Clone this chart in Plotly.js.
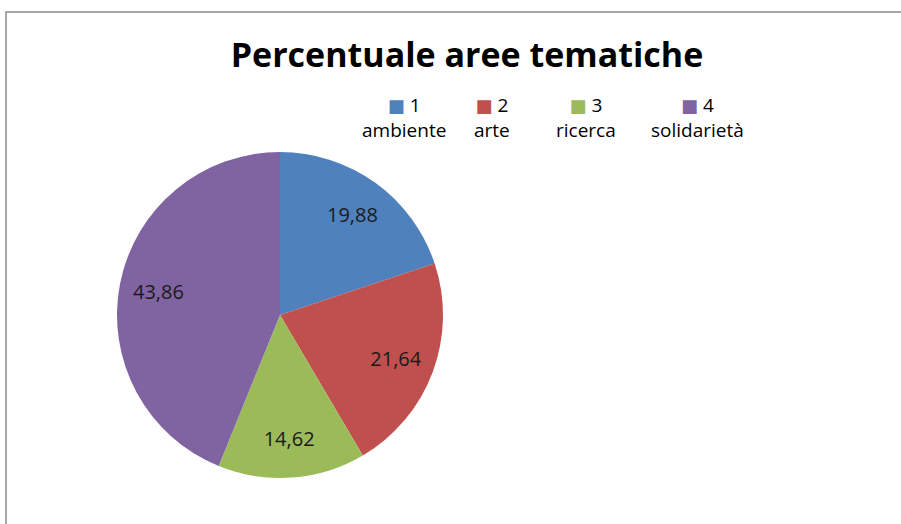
<!DOCTYPE html>
<html>
<head>
<meta charset="utf-8">
<script src="https://cdn.plot.ly/plotly-3.0.1.min.js"></script>
<style>
  html, body { margin: 0; padding: 0; background: #ffffff; }
  #chart { width: 901px; height: 524px; }
</style>
</head>
<body>
<div id="chart"></div>
<script>
const categoryNumbers = ["1", "2", "3", "4"];
const categoryNames = ["ambiente", "arte", "ricerca", "solidarietà"];
const values = [19.88, 21.64, 14.62, 43.86];
const colors = ["#4F81BD", "#C0504D", "#9BBB59", "#8064A2"];
const chartTitle = "Percentuale aree tematiche";

const labels = categoryNumbers.map((n, i) => n + " " + categoryNames[i]);
const valueText = values.map(v => v.toFixed(2).replace('.', ','));

const W = 901, H = 524;
const cx = 280, cy = 315, r = 163;
const FONT = '"Open Sans", "Noto Sans", sans-serif';
const pieDomain = {
  x: [(cx - r) / W, (cx + r) / W],
  y: [(H - cy - r) / H, (H - cy + r) / H]
};

// Coloured slices
const pieTrace = {
  type: 'pie',
  labels: labels,
  values: values,
  textinfo: 'none',
  sort: false,
  direction: 'clockwise',
  rotation: 0,
  marker: { colors: colors, line: { width: 0 } },
  hoverinfo: 'none',
  showlegend: false,
  domain: pieDomain
};

// Same data as a transparent ring, only to place the value labels out towards the rim
const labelTrace = {
  type: 'pie',
  labels: labels,
  values: values,
  text: valueText,
  textinfo: 'text',
  textposition: 'inside',
  insidetextorientation: 'horizontal',
  hole: 0.52,
  sort: false,
  direction: 'clockwise',
  rotation: 0,
  marker: { colors: colors.map(() => 'rgba(0,0,0,0)'), line: { width: 0 } },
  textfont: { family: FONT, size: 20, color: '#1a1a1a' },
  hoverinfo: 'none',
  showlegend: false,
  domain: pieDomain
};

// Legend laid out like the original: "■ n" on the first line, name centred below
const legendX = [404, 492, 586, 697];
const legendAnnotations = categoryNames.map((name, i) => ({
  xref: 'paper', yref: 'paper',
  x: legendX[i] / W, y: (H - 90) / H,
  xanchor: 'center', yanchor: 'top',
  align: 'center',
  showarrow: false,
  text: '<span style="color:' + colors[i] + ';font-family:DejaVu Sans;font-size:18px">■</span> ' +
        categoryNumbers[i] + '<br>' + name,
  font: { family: FONT, size: 19, color: '#000000' }
}));

const layout = {
  width: W,
  height: H,
  margin: { l: 0, r: 0, t: 0, b: 0 },
  paper_bgcolor: '#ffffff',
  font: { family: FONT, color: '#000000' },
  title: {
    text: '<b>' + chartTitle + '</b>',
    font: { family: FONT, size: 34, color: '#000000' },
    x: 467 / W, xanchor: 'center',
    y: (H - 55) / H, yanchor: 'middle'
  },
  showlegend: false,
  annotations: legendAnnotations,
  shapes: [{
    type: 'rect', xref: 'paper', yref: 'paper',
    x0: 6 / W, x1: 1.2, y0: -0.2, y1: (H - 12) / H,
    line: { color: '#8a8a8a', width: 1.5 }
  }]
};

Plotly.newPlot('chart', [pieTrace, labelTrace], layout, { displayModeBar: false, staticPlot: true });
</script>
</body>
</html>
